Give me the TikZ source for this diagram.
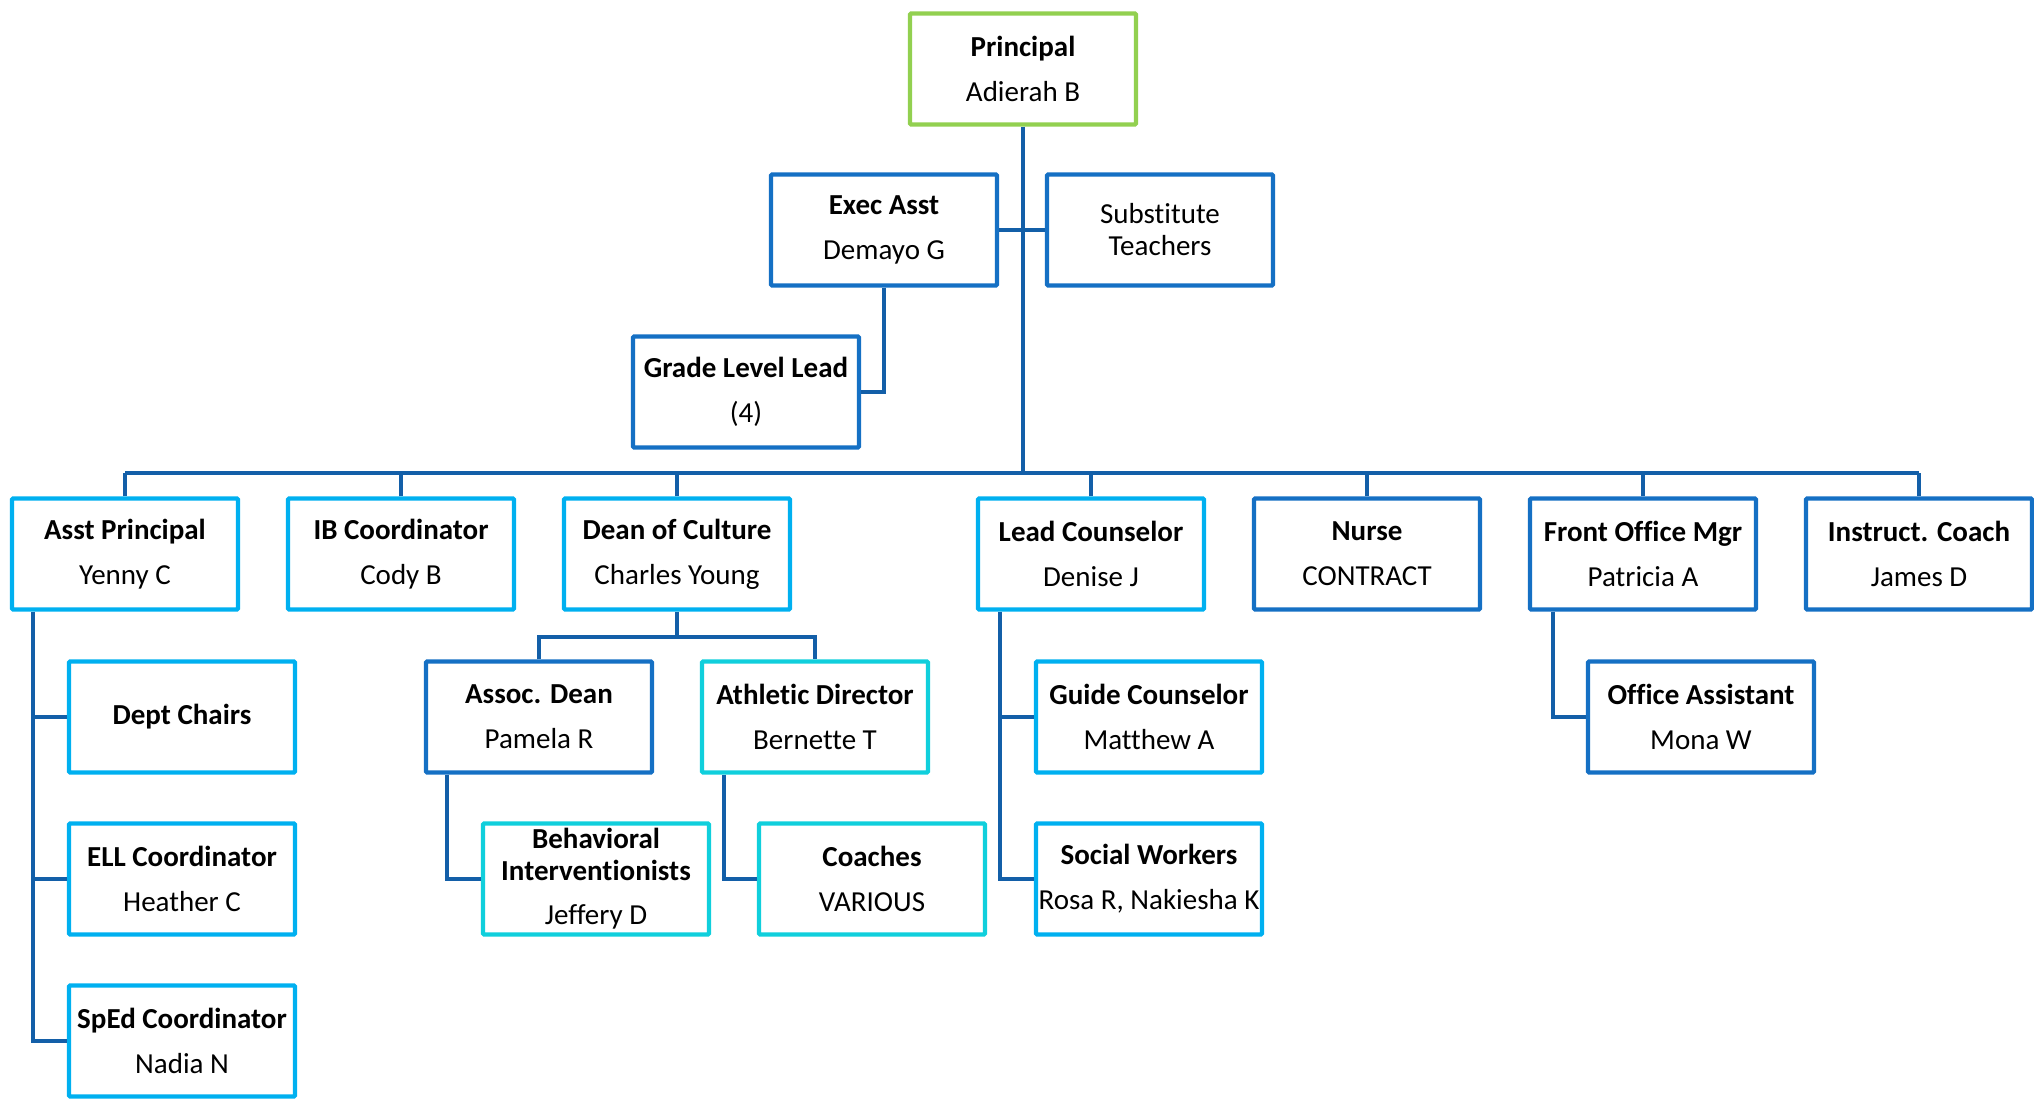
\documentclass[tikz,border=0pt]{standalone}
\usepackage{fontspec}
\setmainfont[Ligatures=NoCommon]{Carlito}
\definecolor{cgreen}{HTML}{92D050}
\definecolor{cdark}{HTML}{1570C4}
\definecolor{clight}{HTML}{00B0F0}
\definecolor{cturq}{HTML}{10CFDC}
\definecolor{cline}{HTML}{135FA8}
\tikzset{
  box/.style={draw, line width=2.2pt, minimum width=113pt, minimum height=55.5pt,
    inner sep=0pt, align=center, fill=white, rounded corners=0.6pt,
    font=\fontsize{14.5}{22.5}\selectfont},
  gbox/.style={box, draw=cgreen},
  dbox/.style={box, draw=cdark},
  lbox/.style={box, draw=clight},
  tbox/.style={box, draw=cturq},
  conn/.style={draw=cline, line width=2pt},
}
\begin{document}
\begin{tikzpicture}[x=0.5pt,y=-0.5pt]
\useasboundingbox (0,0) rectangle (2034,1099);
% top
\node[gbox] (princ) at (1023,69) {\textbf{Principal}\\Adierah B};
\node[dbox] (exec) at (884,230) {\textbf{Exec Asst}\\Demayo G};
\node[dbox, font=\fontsize{14.5}{16}\selectfont] (sub) at (1160,230) {Substitute\\Teachers};
\node[dbox] (gll) at (746,392) {\textbf{Grade Level Lead}\\(4)};
% row 2
\node[lbox] (ap) at (125,554) {\textbf{Asst Principal}\\Yenny C};
\node[lbox] (ib) at (401,554) {\textbf{IB Coordinator}\\Cody B};
\node[lbox] (dean) at (677,554) {\textbf{Dean of Culture}\\Charles Young};
\node[lbox] (lc) at (1091,554) {\textbf{Lead Counselor}\\Denise J};
\node[dbox] (nurse) at (1367,554) {\textbf{Nurse}\\CONTRACT};
\node[dbox] (fom) at (1643,554) {\textbf{Front Office Mgr}\\Patricia A};
\node[dbox] (ic) at (1919,554) {\textbf{Instruct. Coach}\\James D};
% row 3
\node[lbox] (dept) at (182,717) {\textbf{Dept Chairs}};
\node[dbox] (assoc) at (539,717) {\textbf{Assoc. Dean}\\Pamela R};
\node[tbox] (ath) at (815,717) {\textbf{Athletic Director}\\Bernette T};
\node[lbox] (guide) at (1149,717) {\textbf{Guide Counselor}\\Matthew A};
\node[dbox] (oa) at (1701,717) {\textbf{Office Assistant}\\Mona W};
% row 4
\node[lbox] (ell) at (182,879) {\textbf{ELL Coordinator}\\Heather C};
\node[tbox, font=\fontsize{14.5}{16}\selectfont] (beh) at (596,879) {\textbf{Behavioral}\\\textbf{Interventionists}\\[6pt]Jeffery D};
\node[tbox] (coach) at (872,879) {\textbf{Coaches}\\VARIOUS};
\node[lbox] (soc) at (1149,879) {\textbf{Social Workers}\\Rosa R, Nakiesha K};
% row 5
\node[lbox] (sped) at (182,1041) {\textbf{SpEd Coordinator}\\Nadia N};
% coordinates
\coordinate (bus) at (1023,473);
\coordinate (dbus) at (677,637);
\coordinate (apv) at (33,0);
\coordinate (asv) at (447,0);
\coordinate (atv) at (724,0);
\coordinate (lcv) at (1000,0);
\coordinate (fov) at (1553,0);
% connectors
\draw[conn] (princ.south) -- (bus);
\draw[conn] (exec.east) -- (sub.west);
\draw[conn] (exec.south) |- (gll.east);
\draw[conn] (ap.north |- bus) -- (ic.north |- bus);
\foreach \n in {ap,ib,dean,lc,nurse,fom,ic} \draw[conn] (\n.north) -- (\n.north |- bus);
\draw[conn] (dean.south) -- (dbus);
\draw[conn] (assoc.north) |- (dbus) -| (ath.north);
\draw[conn] (apv |- ap.south) -- (apv |- sped.west) -- (sped.west);
\draw[conn] (apv |- dept.west) -- (dept.west);
\draw[conn] (apv |- ell.west) -- (ell.west);
\draw[conn] (asv |- assoc.south) |- (beh.west);
\draw[conn] (atv |- ath.south) |- (coach.west);
\draw[conn] (lcv |- lc.south) |- (soc.west);
\draw[conn] (lcv |- guide.west) -- (guide.west);
\draw[conn] (fov |- fom.south) |- (oa.west);
\end{tikzpicture}
\end{document}
